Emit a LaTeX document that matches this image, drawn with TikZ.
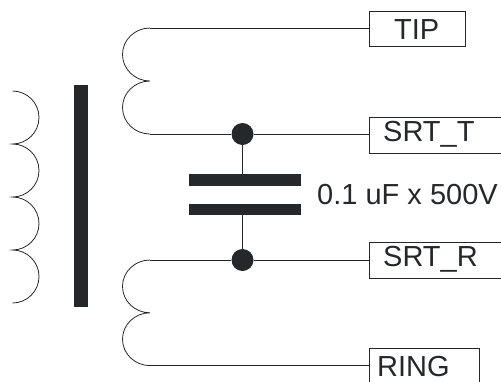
\documentclass[tikz,border=0pt]{standalone}
\usepackage{fontspec}
\setmainfont{Liberation Sans}
\definecolor{ink}{HTML}{25282B}
\tikzset{
  x=1pt,y=-1pt,
  wire/.style={draw=ink,line width=0.9pt},
  coil/.style={draw=ink,line width=0.8pt},
  term/.style={draw=ink,line width=0.9pt,fill=white,rectangle,inner sep=0pt,anchor=north west},
  lab/.style={inner sep=0pt,anchor=base west,text=ink,font=\fontsize{29}{29}\selectfont},
  dot/.style={circle,fill=ink,inner sep=0pt,minimum size=22pt},
  bar/.style={rectangle,fill=ink,inner sep=0pt,anchor=north west},
}
\begin{document}
\begin{tikzpicture}
\useasboundingbox (0,0) rectangle (501,381);
\clip (0,0) rectangle (501,381);
% terminals
\node[term,minimum width=96.5pt,minimum height=35.5pt] (tip) at (368.7,10.5) {};
\node[term,minimum width=160pt,minimum height=35.5pt] (srtt) at (368.7,117) {};
\node[term,minimum width=160pt,minimum height=35.5pt] (srtr) at (368.7,242.3) {};
\node[term,minimum width=110.5pt,minimum height=60pt] (ring) at (368.7,348) {};
\node[lab] (tiplab) at (394,39.5) {TIP};
\node[lab] (srttlab) at (383,141) {SRT\_T};
\node[lab] (srtrlab) at (383,266) {SRT\_R};
\node[lab] (ringlab) at (377,376) {RING};
\node[lab] (caplab) at (317,204.5) {0.1 uF x 500V};
% core and capacitor
\node[bar,minimum width=14pt,minimum height=222pt] (core) at (74,85) {};
\node[bar,minimum width=112.5pt,minimum height=11.5pt] (plateA) at (188.5,174) {};
\node[bar,minimum width=112.5pt,minimum height=11pt] (plateB) at (188.5,203.3) {};
% junctions
\node[dot] (dotT) at (242.5,134) {};
\node[dot] (dotR) at (242.5,260) {};
% coil end points
\coordinate (ua) at (150,28);
\coordinate (ub) at (150,134);
\coordinate (la) at (150,260);
\coordinate (lb) at (150,365.7);
\coordinate (pa) at (12.5,91);
% wires
\draw[wire] (ua) -- (ua -| tip.west);
\draw[wire] (ub) -- (dotT) -- (ub -| srtt.west);
\draw[wire] (la) -- (dotR) -- (la -| srtr.west);
\draw[wire] (lb) -- (lb -| ring.west);
\draw[wire] (dotT.center) -- (dotT.center |- plateA.north);
\draw[wire] (dotR.center) -- (dotR.center |- plateB.south);
% windings
\draw[coil] (ua) arc[start angle=90,delta angle=180,x radius=27.5pt,y radius=26.5pt]
  arc[start angle=90,delta angle=180,x radius=27.5pt,y radius=26.5pt];
\draw[coil] (la) arc[start angle=90,delta angle=180,x radius=27.5pt,y radius=26.4pt]
  arc[start angle=90,delta angle=180,x radius=27.5pt,y radius=26.4pt];
\draw[coil] (pa) arc[start angle=90,delta angle=-180,x radius=26.5pt,y radius=26.5pt]
  arc[start angle=90,delta angle=-180,x radius=26.5pt,y radius=26.5pt]
  arc[start angle=90,delta angle=-180,x radius=26.5pt,y radius=26.5pt]
  arc[start angle=90,delta angle=-180,x radius=26.5pt,y radius=26.5pt];
\end{tikzpicture}
\end{document}
